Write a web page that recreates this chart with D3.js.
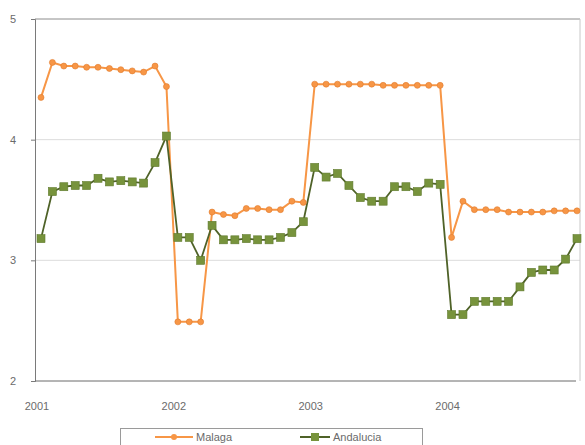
<!DOCTYPE html>
<html>
<head>
<meta charset="utf-8">
<script src="https://cdn.jsdelivr.net/npm/d3@7"></script>
<style>
  html, body { margin: 0; padding: 0; background: #fff; }
  svg { display: block; font-family: "Liberation Sans", Arial, sans-serif; }
</style>
</head>
<body>
<svg id="chart" width="585" height="445"></svg>
<script>
// ---- data ----
const months = d3.range(48); // Jan 2001 .. Dec 2004, monthly
const yearLabels = ["2001", "2002", "2003", "2004"];
const yearIndex = [0, 12, 24, 36];
const yTicks = [2, 3, 4, 5];
const seriesNames = ["Malaga", "Andalucia"];
const malaga = [
  4.35, 4.64, 4.61, 4.61, 4.60, 4.60, 4.59, 4.58, 4.57, 4.56, 4.61, 4.44,
  2.49, 2.49, 2.49, 3.40, 3.38, 3.37, 3.43, 3.43, 3.42, 3.42, 3.49, 3.48,
  4.46, 4.46, 4.46, 4.46, 4.46, 4.46, 4.45, 4.45, 4.45, 4.45, 4.45, 4.45,
  3.19, 3.49, 3.42, 3.42, 3.42, 3.40, 3.40, 3.40, 3.40, 3.41, 3.41, 3.41
];
const andalucia = [
  3.18, 3.57, 3.61, 3.62, 3.62, 3.68, 3.65, 3.66, 3.65, 3.64, 3.81, 4.03,
  3.19, 3.19, 3.00, 3.29, 3.17, 3.17, 3.18, 3.17, 3.17, 3.19, 3.23, 3.32,
  3.77, 3.69, 3.72, 3.62, 3.52, 3.49, 3.49, 3.61, 3.61, 3.57, 3.64, 3.63,
  2.55, 2.55, 2.66, 2.66, 2.66, 2.66, 2.78, 2.90, 2.92, 2.92, 3.01, 3.18
];

// ---- layout ----
const svg = d3.select("#chart");
const plotL = 35, plotR = 580, plotT = 19, plotB = 381;
const x = d3.scalePoint().domain(months).range([41, 577]);
const y = d3.scaleLinear().domain([2, 5]).range([plotB, plotT]);

const textCol = "#6b6b6b";
const orange = "#F79646";
const greenMark = "#77933C";
const greenLine = "#4F6228";

// gridlines
svg.append("g").selectAll("line").data(yTicks.filter(d => d > 2)).join("line")
  .attr("x1", plotL).attr("x2", plotR)
  .attr("y1", d => y(d)).attr("y2", d => y(d))
  .attr("stroke", d => d === 5 ? "#8c8c8c" : "#dcdcdc")
  .attr("stroke-width", 1);

// right border
svg.append("line").attr("x1", plotR).attr("x2", plotR).attr("y1", plotT).attr("y2", plotB)
  .attr("stroke", "#c8c8c8");

// y axis
const yAxis = svg.append("g").attr("transform", `translate(${plotL},0)`)
  .call(d3.axisLeft(y).tickValues(yTicks).tickSize(4).tickFormat(d3.format("d")));
yAxis.select(".domain").attr("stroke", "#7a7a7a");
yAxis.selectAll(".tick line").attr("stroke", "#7a7a7a");
yAxis.selectAll("text").attr("fill", textCol).attr("font-size", 11).attr("dx", "-12");

// x axis
svg.append("line").attr("x1", plotL).attr("x2", plotR - 4).attr("y1", plotB).attr("y2", plotB)
  .attr("stroke", "#6a6a6a");
svg.append("g").selectAll("text").data(yearIndex).join("text")
  .attr("x", (d) => x(d) - 4)
  .attr("y", plotB + 29)
  .attr("text-anchor", "middle")
  .attr("font-size", 11)
  .attr("fill", textCol)
  .text((d, i) => yearLabels[i]);

// lines
const line = d3.line().x((d, i) => x(i)).y(d => y(d));
svg.append("path").datum(malaga).attr("d", line)
  .attr("fill", "none").attr("stroke", orange).attr("stroke-width", 2);
svg.append("path").datum(andalucia).attr("d", line)
  .attr("fill", "none").attr("stroke", greenLine).attr("stroke-width", 1.8);

// markers
svg.append("g").selectAll("circle").data(malaga).join("circle")
  .attr("cx", (d, i) => x(i)).attr("cy", d => y(d)).attr("r", 3)
  .attr("fill", orange).attr("stroke", "#e07b2c").attr("stroke-width", 0.6);
svg.append("g").selectAll("rect").data(andalucia).join("rect")
  .attr("x", (d, i) => x(i) - 4).attr("y", d => y(d) - 4)
  .attr("width", 8).attr("height", 8)
  .attr("fill", greenMark).attr("stroke", "#5f7a2c").attr("stroke-width", 0.6);

// legend
const lg = svg.append("g");
lg.append("rect").attr("x", 120.5).attr("y", 428.5).attr("width", 302).attr("height", 24)
  .attr("fill", "#fff").attr("stroke", "#9a9a9a");
// Malaga
lg.append("line").attr("x1", 155).attr("x2", 193).attr("y1", 437).attr("y2", 437)
  .attr("stroke", orange).attr("stroke-width", 2);
lg.append("circle").attr("cx", 174).attr("cy", 437).attr("r", 3).attr("fill", orange);
lg.append("text").attr("x", 196).attr("y", 441).attr("font-size", 11).attr("fill", textCol)
  .text(seriesNames[0]);
// Andalucia
lg.append("line").attr("x1", 300).attr("x2", 330).attr("y1", 437).attr("y2", 437)
  .attr("stroke", greenLine).attr("stroke-width", 2);
lg.append("rect").attr("x", 311).attr("y", 433).attr("width", 8).attr("height", 8).attr("fill", greenMark);
lg.append("text").attr("x", 333).attr("y", 441).attr("font-size", 11).attr("fill", textCol)
  .text(seriesNames[1]);
</script>
</body>
</html>
